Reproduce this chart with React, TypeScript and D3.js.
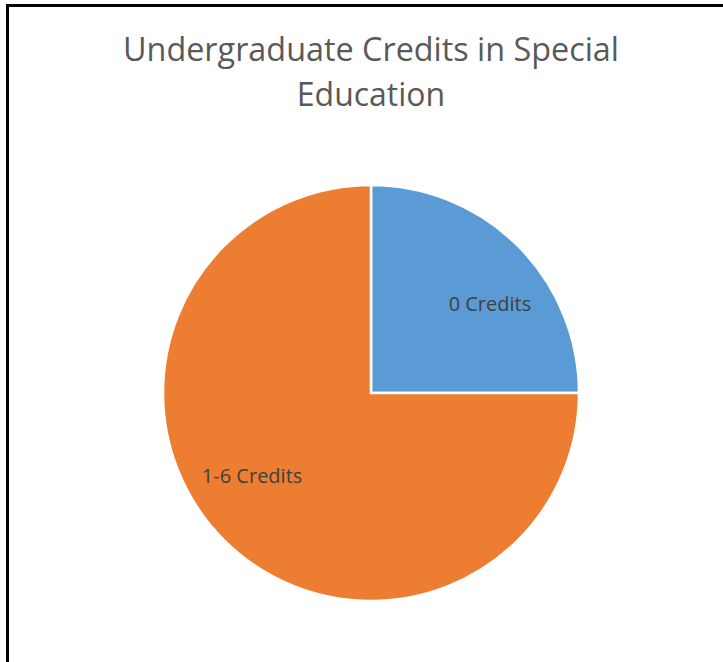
import React from "react";
import * as d3 from "d3";

const categories = ["0 Credits", "1-6 Credits"];
const values = [25, 75];
const colors = ["#5B9BD5", "#ED7D31"];
const title = ["Undergraduate Credits in Special", "Education"];

const W = 723;
const H = 662;

export default function App() {
  const cx = 371;
  const cy = 393;
  const r = 208;
  const pie = d3.pie<number>().sort(null).startAngle(0).endAngle(2 * Math.PI);
  const arcs = pie(values);
  const arc = d3.arc<d3.PieArcDatum<number>>().innerRadius(0).outerRadius(r);
  const labelR = 147;
  const shift = (9 * Math.PI) / 180;

  return (
    <svg
      width={W}
      height={H}
      style={{ position: "absolute", left: 0, top: 0, background: "#fff" }}
      fontFamily="'Open Sans', Calibri, sans-serif"
    >
      <rect x={0} y={0} width={W} height={H} fill="#fff" />
      <line x1={7.5} y1={4} x2={7.5} y2={H} stroke="#000" strokeWidth={3} />
      <line x1={6} y1={5.5} x2={W} y2={5.5} stroke="#000" strokeWidth={3} />
      {title.map((t, i) => (
        <text
          key={i}
          x={371}
          y={61 + i * 45}
          textAnchor="middle"
          fontSize={32}
          textLength={i === 0 ? 496 : undefined}
          lengthAdjust="spacingAndGlyphs"
          fill="#595959"
        >
          {t}
        </text>
      ))}
      <g transform={`translate(${cx},${cy})`}>
        {arcs.map((a, i) => (
          <path key={i} d={arc(a) || ""} fill={colors[i]} stroke="#fff" strokeWidth={2.5} />
        ))}
        {arcs.map((a, i) => {
          const mid = (a.startAngle + a.endAngle) / 2 + shift;
          const x = Math.sin(mid) * labelR;
          const y = -Math.cos(mid) * labelR;
          return (
            <text
              key={i}
              x={x}
              y={y - 3}
              dy="0.35em"
              textAnchor="middle"
              fontSize={20}
              fill="#404040"
            >
              {categories[i]}
            </text>
          );
        })}
      </g>
    </svg>
  );
}
